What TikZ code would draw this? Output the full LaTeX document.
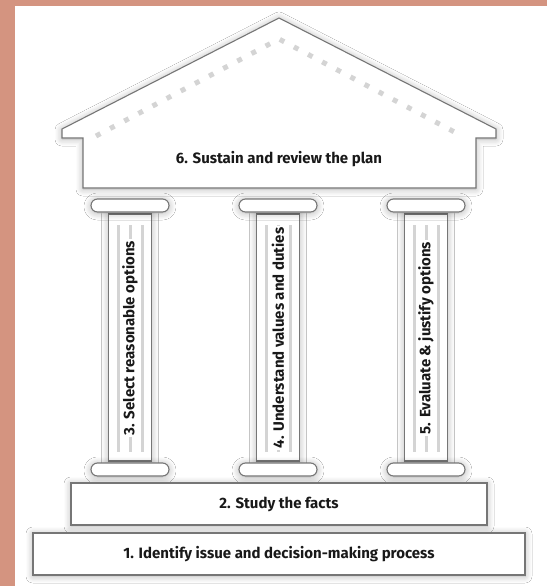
\documentclass[tikz,border=0pt]{standalone}
\usepackage{fontspec}
\setmainfont{Fira Sans}
\usetikzlibrary{shadows.blur}
\definecolor{salmon}{RGB}{212,148,128}
\definecolor{edgegray}{RGB}{118,118,118}
\definecolor{flutegray}{RGB}{212,212,212}
\tikzset{
  part/.style={draw=edgegray, fill=white, line width=1.1pt,
    blur shadow={shadow xshift=0pt, shadow yshift=-1pt, shadow blur radius=7pt,
      shadow blur steps=12, shadow opacity=30}},
  ring/.style={part, rounded corners=6.5pt},
  steptext/.style={font=\bfseries\fontsize{15}{18}\selectfont, text=black!90},
  coltext/.style={steptext, rotate=90, fill=white, inner sep=2pt},
}
\begin{document}
\begin{tikzpicture}[x=1pt,y=-1pt]
  \fill[salmon] (0,0) rectangle (547,586);
  \fill[white] (15,6) rectangle (547,586);
  \useasboundingbox (0,0) rectangle (547,586);
  % roof and entablature
  \draw[part] (62,129)--(279,18)--(496,129)--(496,138)--(476,138)--(476,188)
    --(83,188)--(83,138)--(62,138)--cycle;
  \draw[flutegray, line width=5pt, dash pattern=on 5pt off 11pt] (96,136)--(279,39)--(462,136);
  \node[steptext] (sustain) at (279,159) {6. Sustain and review the plan};
  % pillars
  \foreach \cx/\name/\txt in {130/select/{3. Select reasonable options},
      278/understand/{4. Understand values and duties},
      426/evaluate/{5. Evaluate \& justify options}} {
    \draw[part] (\cx-21.5,214) rectangle (\cx+21.5,461);
    \foreach \dx in {-12,0,12}
      \draw[flutegray, line width=3pt] (\cx+\dx,225)--(\cx+\dx,452);
    \node[coltext] (\name) at (\cx,338) {\txt};
    \draw[ring] (\cx-39,199) rectangle (\cx+39,212);
    \draw[ring] (\cx-39,463) rectangle (\cx+39,476);
  }
  % steps
  \draw[part] (71,483) rectangle (487,525);
  \node[steptext] (facts) at (279,504) {2. Study the facts};
  \draw[part] (33,533) rectangle (525,575);
  \node[steptext] (identify) at (279,554) {1. Identify issue and decision-making process};
\end{tikzpicture}
\end{document}
